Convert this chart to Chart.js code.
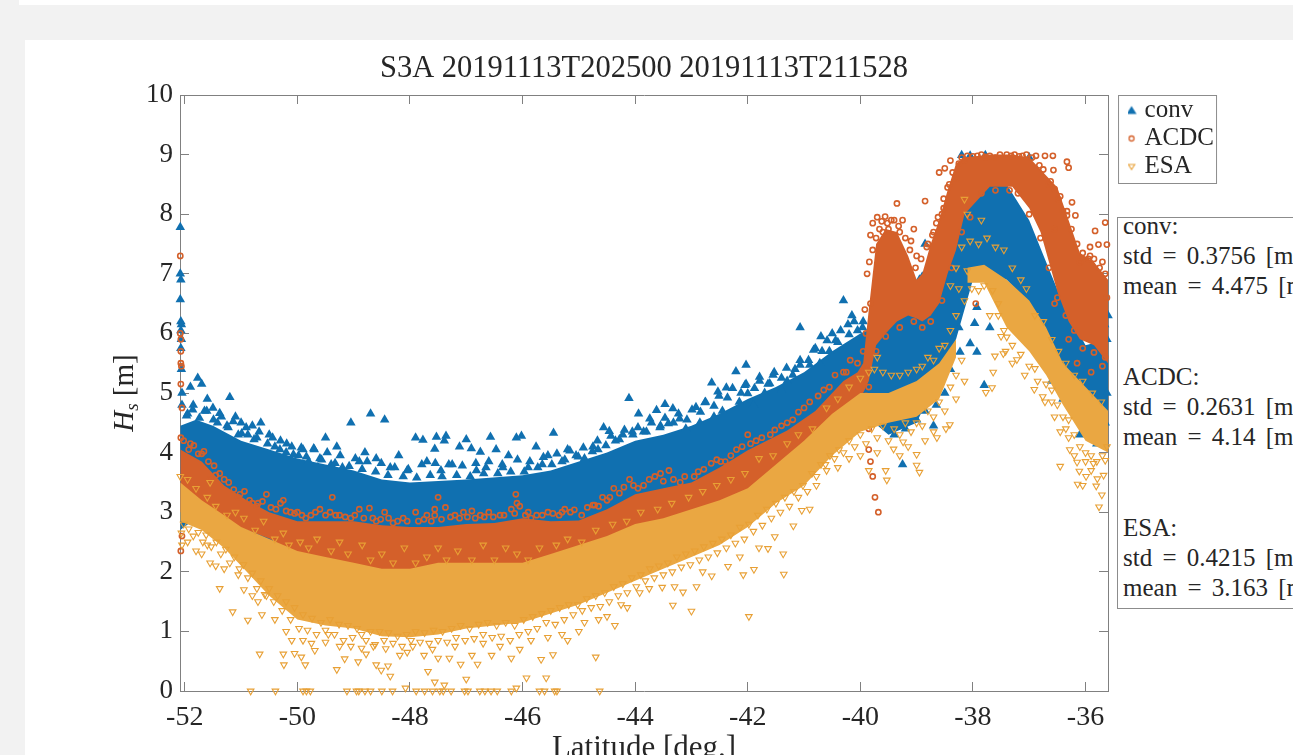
<!DOCTYPE html>
<html>
<head>
<meta charset="utf-8">
<script src="https://cdn.jsdelivr.net/npm/chart.js@4"></script>
<style>
  html, body { margin: 0; height: 100%; overflow: hidden; background: #f2f2f2; }
  #strip { position: absolute; left: 19px; top: 0; right: 0; height: 5px; background: #fff; }
  #panel { position: absolute; left: 25px; top: 40px; right: 0; bottom: 0; background: #fff; }
  canvas { position: absolute; left: 0; top: 0; }
  #stats { position: absolute; left: 1117px; top: 217px; width: 300px; height: 390px; border: 1px solid #8c8c8c;
           background: #fff; overflow: hidden; font: 25px "Liberation Serif", serif; color: #262626; word-spacing: 4px; }
  #stats div { height: 30.2px; line-height: 30.2px; white-space: pre; padding-left: 5px; position: relative; top: -7px; }
</style>
</head>
<body>
<div id="strip"></div>
<div id="panel"></div>
<canvas id="grafico" width="1293" height="790"></canvas>
<div id="stats"></div>
<script>
var seriesNames = ["conv", "ACDC", "ESA"];
var titleText = "S3A 20191113T202500 20191113T211528";
var xTitleText = "Latitude [deg.]";
var xTicks = [-52, -50, -48, -46, -44, -42, -40, -38, -36];
var yTicks = [0, 1, 2, 3, 4, 5, 6, 7, 8, 9, 10];
var statsLines = ["conv:", "std = 0.3756 [m]", "mean = 4.475 [m]", "", "", "ACDC:", "std = 0.2631 [m]", "mean = 4.14 [m]", "", "", "ESA:", "std = 0.4215 [m]", "mean = 3.163 [m]"];

// dense core of each cloud as [lat, upper, lower]
var convCore = [[-52.08,4.45,2.7],[-51.8,4.55,2.9],[-51.5,4.45,3],[-51,4.2,2.6],[-50.5,4.05,2.5],[-50,3.9,2.4],[-49.5,3.8,2.3],[-49,3.7,2.3],[-48.5,3.55,2.2],[-48,3.5,2.2],[-47,3.55,2.3],[-46,3.62,2.4],[-45.5,3.7,2.5],[-45,3.85,2.6],[-44.5,4,2.8],[-44,4.2,3],[-43.5,4.3,3.1],[-43,4.45,3.3],[-42.5,4.65,3.5],[-42,4.9,3.7],[-41.5,5.1,4],[-41,5.35,4.2],[-40.5,5.7,4.6],[-40,6,4.7],[-39.5,6.2,4.3],[-39,6.5,4.5],[-38.6,7.4,5.3],[-38.3,8.3,5.9],[-38,8.6,6.9],[-37.7,8.6,7],[-37.4,8.5,6.9],[-37,7.9,6.5],[-36.7,7.2,6],[-36.4,6.5,5.3],[-36,5.8,4.6],[-35.6,5.9,4.3]];
var acdcCore = [[-52.08,4.05,3],[-51.7,3.85,3],[-51.3,3.45,2.83],[-50.9,3.2,2.7],[-50.5,3,2.56],[-50,2.85,2.28],[-49.5,2.85,2.15],[-49,2.85,2.06],[-48.5,2.78,2],[-48,2.75,2],[-47.5,2.75,2.1],[-47,2.8,2.08],[-46.5,2.82,2.08],[-46,2.9,2.08],[-45.5,2.85,2.25],[-45,2.86,2.41],[-44.5,3.05,2.55],[-44,3.3,2.7],[-43.5,3.4,2.8],[-43,3.5,2.9],[-42.5,3.75,3.05],[-42,4.04,3.25],[-41.3,4.37,3.75],[-40.8,4.7,4.1],[-40.3,5.2,4.5],[-40.05,5.35,4.8],[-39.95,5.5,5],[-39.85,6.4,5.2],[-39.72,7.5,5.8],[-39.55,7.75,6],[-39.35,7.7,6.2],[-39.15,7.3,6.3],[-39,6.9,6.25],[-38.9,7,6.2],[-38.75,7.5,6.3],[-38.6,7.9,6.5],[-38.45,8.4,7],[-38.3,8.85,7.4],[-38.15,8.95,8],[-37.7,9,8.46],[-37.3,9,8.46],[-37,8.95,8.1],[-36.8,8.75,7.7],[-36.5,8.45,6.7],[-36.3,7.9,6.2],[-36.1,7.35,5.9],[-35.85,7.2,5.8],[-35.6,6.9,5.5]];
var esaCore = [[-52.08,3.5,2.85],[-51.7,3.2,2.7],[-51.3,2.95,2.4],[-51,2.75,2.1],[-50.5,2.55,1.6],[-50,2.35,1.2],[-49.5,2.25,1.1],[-49,2.15,1.05],[-48.5,2.05,0.92],[-48,2.05,0.9],[-47.5,2.15,0.95],[-47,2.15,1.05],[-46.5,2.15,1.1],[-46,2.15,1.15],[-45.5,2.3,1.3],[-45,2.45,1.45],[-44.5,2.6,1.65],[-44,2.8,1.85],[-43.5,2.9,2.05],[-43,3.05,2.25],[-42.5,3.2,2.45],[-42,3.4,2.75],[-41.5,3.8,3.15],[-41,4.2,3.45],[-40.5,4.65,3.95],[-40,5,4.35],[-39.5,5,4.5],[-39,5.2,4.6],[-38.6,5.5,4.9],[-38.3,5.9,5.6]];
var esaCoreArch = [[-38.1,7.1,6.85],[-37.8,7.15,6.85],[-37.4,6.9,6.1],[-37,6.55,5.7],[-36.7,6.1,5.3],[-36.4,5.5,4.8],[-36,5.1,4.2],[-35.6,4.7,4]];

// markers that stand out on their own, as [lat, Hs]
var convPoints = [[-52.08,7.78],[-52.08,7],[-52.07,6.9],[-52.08,6.57],[-52.07,6.2],[-52.06,6.15],[-52.07,6.05],[-52.06,5.9],[-52.07,5.75],[-52.06,5.4],[-52.05,5],[-52.05,4.8],[-51.95,4.65],[-51.9,5.1],[-51.85,4.8],[-51.77,5.25],[-51.7,5.15],[-51.65,4.7],[-51.6,4.9],[-51.5,4.75],[-51.42,4.5],[-51.35,4.6],[-51.25,4.45],[-51.2,4.93],[-51.1,4.6],[-51.05,4.3],[-51,4.5],[-50.88,4.3],[-50.8,4.45],[-50.72,4.25],[-50.65,4.5],[-50.5,4.3],[-50.4,4.1],[-50.3,4.2],[-50.2,4],[-50.1,4.1],[-49.98,3.95],[-49.9,4.05],[-49.8,3.85],[-49.7,4.05],[-49.6,3.9],[-49.5,4.25],[-49.4,3.8],[-49.3,4.1],[-49.2,3.75],[-49.05,4.5],[-48.9,3.85],[-48.8,4],[-48.7,4.65],[-48.6,3.9],[-48.45,4.55],[-48.35,3.75],[-48.2,3.95],[-48.05,3.7],[-47.9,4.25],[-47.77,4.21],[-47.7,3.85],[-47.56,4.06],[-47.53,4.26],[-47.45,3.7],[-47.39,4.2],[-47.36,4.28],[-47.25,3.8],[-47.12,4.1],[-47,4.22],[-46.91,4.07],[-46.82,3.7],[-46.75,4.01],[-46.65,3.75],[-46.57,4.26],[-46.47,4.05],[-46.35,3.75],[-46.25,3.95],[-46.11,4.25],[-46.02,4.28],[-45.9,3.75],[-45.76,4.1],[-45.65,3.8],[-45.55,3.95],[-45.45,4.33],[-45.3,3.85],[-45.2,4.05],[-45.05,3.95],[-44.9,3.9],[-44.75,4.1],[-44.66,4.05],[-44.56,4.42],[-44.46,4.36],[-44.35,4.2],[-44.22,4.3],[-44.11,4.91],[-44.05,4.35],[-43.94,4.65],[-43.85,4.35],[-43.74,4.57],[-43.62,4.71],[-43.55,4.45],[-43.47,4.81],[-43.41,4.49],[-43.33,4.74],[-43.21,4.57],[-43.1,4.4],[-42.92,4.76],[-42.85,4.5],[-42.76,4.84],[-42.64,5.17],[-42.6,4.6],[-42.53,5.02],[-42.45,4.7],[-42.38,5.09],[-42.21,5.36],[-42.15,4.85],[-42.05,5.13],[-42.03,5.47],[-42,4.99],[-41.9,4.8],[-41.79,5.27],[-41.7,5],[-41.61,5.16],[-41.53,5.35],[-41.4,5.05],[-41.3,5.2],[-41.2,5.3],[-41.07,6.1],[-41.07,5.47],[-40.9,5.47],[-40.8,5.75],[-40.72,5.5],[-40.7,5.95],[-40.55,5.7],[-40.5,6],[-40.4,5.85],[-40.3,6.55],[-40.22,6.15],[-40.15,6.3],[-40.05,6.05],[-39.95,6.2],[-39.8,6.05],[-39.7,5.6],[-39.55,6],[-39.4,6.1],[-39.3,6.35],[-39.1,6.5],[-38.95,6.9],[-38.85,7.5],[-38.7,7.1],[-38.55,7.6],[-38.45,8.1],[-38.2,8.99],[-38.05,8.98],[-37.93,6.44],[-37.7,6.1],[-37.97,6.17],[-38.05,5.83],[-37.93,5.69],[-38.23,5.69],[-38.25,6.1],[-37.8,5.13],[-37.78,8.99],[-37,8.95],[-38.4,5.4],[-38.5,5],[-38.65,4.8],[-38.85,4.7],[-39,4.55],[-39.2,4.4],[-39.1,4.9],[-39.4,4.3],[-39.5,4.8],[-39.25,3.8],[-38.7,4.45],[-39.65,4.7],[-36.6,5.2],[-36.4,4.9],[-36.2,4.7],[-36.1,4.3],[-35.95,4.4],[-35.8,4.15],[-35.65,4.5],[-35.62,5],[-35.62,5.9],[-35.66,6.15],[-35.6,6.3],[-35.7,6],[-35.75,4.75]];
// jagged upper edge of the blue cloud
var convEdge = [[-51.97,4.62],[-51.86,4.72],[-51.74,4.58],[-51.61,4.7],[-51.49,4.55],[-51.38,4.66],[-51.23,4.42],[-51.14,4.52],[-50.99,4.32],[-50.91,4.42],[-50.77,4.22],[-50.68,4.35],[-50.53,4.15],[-50.44,4.25],[-50.31,4.05],[-50.19,4.15],[-50.07,3.97],[-49.93,4.08],[-49.84,3.93],[-49.71,4.07],[-49.57,3.88],[-49.47,4],[-49.33,3.82],[-49.24,3.95],[-49.08,3.77],[-48.97,3.9],[-48.85,3.72],[-48.76,3.85],[-48.61,3.68],[-48.51,3.82],[-48.39,3.62],[-48.27,3.75],[-48.12,3.6],[-48.03,3.72],[-47.88,3.58],[-47.79,3.8],[-47.64,3.62],[-47.55,3.82],[-47.43,3.6],[-47.31,3.8],[-47.17,3.62],[-47.07,3.78],[-46.93,3.6],[-46.83,3.82],[-46.69,3.65],[-46.6,3.85],[-46.44,3.65],[-46.36,3.8],[-46.21,3.68],[-46.09,3.88],[-45.97,3.68],[-45.87,3.85],[-45.73,3.75],[-45.63,3.92],[-45.48,3.8],[-45.39,3.98],[-45.25,3.88],[-45.16,4.03],[-45.01,3.93],[-44.92,4.08],[-44.76,4.02],[-44.67,4.2],[-44.52,4.12],[-44.43,4.28],[-44.28,4.22],[-44.19,4.38],[-44.04,4.3],[-43.95,4.42],[-43.8,4.35],[-43.71,4.5],[-43.56,4.42],[-43.47,4.58],[-43.32,4.5],[-43.23,4.65],[-43.08,4.55],[-42.99,4.72],[-42.84,4.68],[-42.75,4.85],[-42.6,4.78],[-42.51,4.95],[-42.36,4.92],[-42.27,5.08],[-42.12,5],[-42.03,5.15],[-41.88,5.08],[-41.79,5.2],[-41.64,5.15],[-41.55,5.3],[-41.4,5.25],[-41.31,5.42],[-41.16,5.4],[-41.07,5.55],[-40.92,5.55],[-40.83,5.72],[-40.68,5.7],[-40.59,5.88],[-40.44,5.88],[-40.35,6.05],[-40.2,5.98],[-40.11,6.2],[-39.96,6.1],[-39.85,5.95],[-39.62,6.2],[-39.45,6.3],[-39.2,6.5],[-38.9,6.95],[-38.75,7.2]];
var acdcPoints = [[-52.08,7.3],[-52.08,6],[-52.07,5.9],[-52.07,5.7],[-52.07,5.5],[-52.06,5.45],[-52.07,5.15],[-52.05,4.75],[-52.07,4.25],[-52.07,2.35],[-52.05,2.6],[-51.9,4.15],[-51.7,3.98],[-51.55,3.55],[-51.45,3.62],[-51.05,3.25],[-50.85,3.2],[-50.7,3.15],[-50.55,3.3],[-50.25,3.2],[-50.2,3.02],[-50,3],[-49.85,2.9],[-49.6,3.05],[-49.38,3.25],[-49.25,2.95],[-49.05,2.9],[-48.9,3.05],[-48.72,3.07],[-48.6,2.85],[-48.45,3],[-48.3,2.82],[-48.12,2.9],[-47.9,3],[-47.7,2.95],[-47.56,2.95],[-47.56,3.05],[-47.5,3.25],[-47.37,3.08],[-47.2,2.95],[-47.05,3],[-46.9,3.02],[-46.75,2.95],[-46.6,3],[-46.4,2.95],[-46.12,3.3],[-46.05,3.1],[-45.95,2.95],[-45.85,2.9],[-45.75,2.95],[-45.55,3],[-45.35,2.95],[-45.25,3.05],[-45.08,3.04],[-44.95,2.95],[-44.72,3.12],[-44.65,3.1],[-44.58,3.25],[-44.38,3.4],[-44.1,3.55],[-43.95,3.4],[-43.65,3.6],[-43.55,3.65],[-43.4,3.7],[-43.2,3.5],[-42.95,3.6],[-42.55,3.88],[-42.4,3.85],[-42.1,4.1],[-42,4.3],[-41.85,4.2],[-41.6,4.3],[-41.4,4.45],[-41.2,4.55],[-41,4.75],[-40.75,4.95],[-40.55,5.1],[-40.3,5.35],[-40.18,5.55],[-40.1,5.2],[-39.85,4.4],[-39.85,4.05],[-39.82,3.85],[-39.78,3.6],[-39.74,3.25],[-39.68,3],[-39.9,4.7],[-39.95,5.7],[-39.92,6.4],[-39.88,7],[-39.82,7.65],[-39.78,7.85],[-39.7,7.95],[-39.6,7.7],[-39.56,7.96],[-39.5,7.75],[-39.4,7.9],[-39.35,8.18],[-39.3,7.7],[-39.25,7.9],[-39.1,7.55],[-39.05,7.75],[-39,7.3],[-38.85,8.22],[-38.8,7.5],[-38.7,7.7],[-38.65,7.85],[-38.55,8],[-38.52,8.26],[-38.5,8.77],[-38.4,8.9],[-38.6,8.7],[-38.45,8.45],[-38.2,8.95],[-37.85,9],[-37.4,9],[-37.05,9],[-36.72,8.98],[-36.58,8.98],[-36.33,8.88],[-36.3,8.78],[-36.57,8.74],[-36.65,8.5],[-36.45,8.3],[-36.24,8.2],[-36.33,8.05],[-36.18,7.98],[-36.33,7.98],[-36.55,7.75],[-35.83,7.72],[-35.65,7.86],[-35.77,7.49],[-35.62,7.49],[-35.92,7.45],[-35.92,7.3],[-36.1,7.2],[-35.7,7.2],[-35.65,5.6],[-35.9,5.35],[-36.15,5.5],[-36.3,5.9],[-36.55,6.5],[-37.95,6.5]];
// upper edge of the red cloud, the top row sits at 9, and its spikes over the blue
var acdcEdge = [[-52.02,4.2],[-51.93,4.05],[-51.84,4.12],[-51.76,3.98],[-51.66,4.02],[-51.58,3.85],[-51.48,3.78],[-51.38,3.65],[-51.3,3.55],[-51.22,3.5],[-51.13,3.38],[-51.02,3.3],[-50.94,3.35],[-50.8,3.15],[-50.72,3.1],[-50.62,3.18],[-50.47,3.08],[-50.38,3.05],[-50.3,3.15],[-50.12,3],[-50.05,2.98],[-49.92,2.95],[-49.76,2.95],[-49.68,3],[-49.5,2.95],[-49.42,3],[-49.32,2.95],[-49.15,2.92],[-48.98,2.95],[-48.82,2.9],[-48.66,2.9],[-48.52,2.88],[-48.38,2.9],[-48.22,2.85],[-48.05,2.85],[-47.85,2.85],[-47.75,2.88],[-47.62,2.85],[-47.44,2.88],[-47.28,2.92],[-47.12,2.9],[-46.98,2.92],[-46.84,2.9],[-46.68,2.92],[-46.52,2.92],[-46.33,2.95],[-46.2,3.05],[-46.1,3.15],[-46.14,2.98],[-45.9,3],[-45.65,2.95],[-45.46,2.98],[-45.3,3],[-45.15,3],[-44.85,3.08],[-44.75,3.12],[-44.5,3.2],[-44.45,3.25],[-44.28,3.32],[-44.2,3.42],[-44.03,3.45],[-43.85,3.45],[-43.75,3.55],[-43.5,3.52],[-43.32,3.55],[-43.12,3.6],[-42.88,3.68],[-42.78,3.72],[-42.65,3.82],[-42.48,3.85],[-42.3,3.95],[-42.2,4.05],[-41.95,4.15],[-41.75,4.25],[-41.52,4.38],[-41.3,4.5],[-41.1,4.68],[-40.9,4.85],[-40.65,5.05],[-40.45,5.3],[-40.25,5.35],[-40.05,5.5],[-39.95,5.3],[-39.88,5.4],[-39.9,6],[-39.82,6.5],[-39.84,7.2],[-39.78,7.4],[-39.72,7.6],[-39.66,7.75],[-39.62,7.88],[-39.52,7.85],[-39.45,7.9],[-39.32,7.8],[-39.2,7.6],[-39.12,7.4],[-39.02,7.1],[-38.92,7.25],[-38.82,7.45],[-38.72,7.65],[-38.62,7.95],[-38.52,8.1],[-38.42,8.5],[-38.36,8.7],[-38.3,8.6],[-38.25,8.85],[-38.15,8.9],[-38.1,8.98],[-38,8.97],[-37.92,8.98],[-37.78,8.96],[-37.7,8.98],[-37.6,8.95],[-37.52,9],[-37.32,8.98],[-37.26,9],[-37.18,8.97],[-37.12,8.98],[-36.95,8.95],[-36.88,8.98],[-36.82,8.82],[-36.75,8.75],[-36.62,8.55],[-36.55,8.42],[-36.48,8.25],[-36.4,8.05],[-36.25,7.75],[-36.15,7.5],[-36.05,7.35],[-35.95,7.25],[-35.85,7.25],[-35.75,7.1],[-35.65,7],[-35.62,6.6],[-35.7,5.45],[-35.85,5.68],[-36.05,5.75],[-36.2,6.05],[-36.35,6.3],[-36.5,6.6],[-36.65,7.1],[-36.8,7.6],[-37,8],[-37.2,8.35],[-37.35,8.4],[-37.6,8.4],[-37.85,8.35],[-38.05,7.95],[-38.2,7.7],[-38.38,7.1],[-38.55,6.55],[-38.75,6.2],[-38.9,6.1],[-39.05,6.2],[-39.3,6.1],[-39.55,5.95],[-39.72,5.7],[-39.85,5.1],[-39.9,4.95]];
var esaPoints = [[-52.08,3.6],[-52.06,2.65],[-52.05,2.45],[-51.95,2.5],[-51.8,2.35],[-51.7,2.3],[-51.6,2.45],[-51.55,2.15],[-51.45,2.1],[-51.38,1.72],[-51.3,2.05],[-51.15,1.33],[-51.05,1.95],[-50.95,1.7],[-50.88,1.19],[-50.8,1.6],[-50.7,1.5],[-50.63,1.28],[-50.67,0.62],[-50.55,1.6],[-50.4,1.2],[-50.25,0.62],[-50.24,0.44],[-50.2,1],[-50.1,0.85],[-50.05,0.63],[-49.93,0.57],[-49.9,0.85],[-49.86,0.44],[-49.75,0.8],[-49.69,0.68],[-49.5,0.82],[-49.45,0.95],[-49.3,0.36],[-49.25,0.75],[-49.16,0.54],[-49.05,0.75],[-48.92,0.49],[-48.86,0.72],[-48.78,0.62],[-48.65,0.75],[-48.6,0.44],[-48.51,0.35],[-48.43,0.71],[-48.39,0.42],[-48.35,0.25],[-48.18,0.6],[-48.05,0.65],[-47.95,0.75],[-47.75,0.6],[-47.68,0.33],[-47.6,0.7],[-47.56,0.15],[-47.5,0.55],[-47.39,0.1],[-47.3,0.55],[-47.2,0.75],[-47.1,0.45],[-47,0.2],[-46.9,0.6],[-46.8,0.45],[-46.7,0.8],[-46.55,0.6],[-46.4,0.75],[-46.2,0.55],[-46.05,0.7],[-45.93,0.22],[-45.85,0.85],[-45.67,0.53],[-45.58,0.22],[-45.55,0.9],[-45.46,0.61],[-45.3,0.95],[-45.2,0.85],[-45,1],[-44.9,1.15],[-44.7,0.57],[-44.65,1.2],[-44.5,1.25],[-44.36,1.1],[-44.25,1.45],[-44.14,1.4],[-43.92,1.65],[-43.75,1.72],[-43.52,1.74],[-43.33,1.44],[-43.3,1.75],[-43.15,1.66],[-43,1.34],[-42.91,1.75],[-42.8,2],[-42.64,1.93],[-42.35,2.09],[-42.14,2.25],[-42.08,1.95],[-41.98,1.25],[-41.89,2.04],[-41.8,2.4],[-41.64,2.39],[-41.52,2.59],[-41.37,2.3],[-41.36,1.96],[-41.19,2.77],[-41.04,3.03],[-40.9,3.05],[-40.78,3.45],[-40.6,3.7],[-40.4,3.75],[-40.2,3.9],[-40,3.95],[-39.85,3.7],[-39.7,4],[-39.55,3.7],[-39.53,3.54],[-39.41,4.06],[-39.3,3.95],[-39.24,4.18],[-39.15,4.1],[-39,3.97],[-39,3.79],[-38.95,3.67],[-38.85,4.2],[-38.7,4.35],[-38.64,4.25],[-38.48,4.4],[-38.41,4.47],[-38.3,4.9],[-38.15,5.2],[-37.77,5.01],[-37.66,5.09],[-37.64,5.35],[-37.61,5.62],[-37.46,5.66],[-37.4,5.94],[-37.22,5.56],[-37.7,6.3],[-37.55,6.5],[-36.91,5.06],[-36.9,5.41],[-36.76,4.94],[-36.6,4.85],[-36.45,4.35],[-36.45,3.77],[-36.28,4.05],[-36.15,3.84],[-36.14,3.47],[-36.11,3.69],[-36.05,3.45],[-35.99,3.6],[-35.86,3.82],[-35.81,3.44],[-35.79,3.56],[-35.76,3.09],[-35.71,3.29],[-35.68,3.62],[-35.65,3.87],
  [-50.83,0],[-50.39,0],[-49.9,0],[-49.84,0],[-49.77,0],[-49.12,0],[-48.95,0],[-48.91,0],[-48.8,0],[-48.7,0],[-48.5,0],[-48.31,0],[-48.08,0.05],[-47.89,0],[-47.74,0],[-47.6,0],[-47.47,0],[-47.41,0],[-47.27,0],[-47.03,0],[-46.97,0],[-46.76,0],[-46.67,0],[-46.56,0],[-46.45,0],[-46.2,0],[-46.11,0.05],[-45.7,0],[-45.61,0],[-45.43,0],[-45.39,0],[-44.63,0]];
// jagged lower edge of the gold cloud, then the marks that lie over the red one and the arch
var esaEdge = [[-52.02,2.8],[-51.93,2.72],[-51.85,2.6],[-51.76,2.66],[-51.68,2.5],[-51.62,2.62],[-51.53,2.42],[-51.44,2.5],[-51.36,2.3],[-51.27,2.38],[-51.2,2.15],[-51.12,2.25],[-51.03,2.05],[-50.96,2.12],[-50.88,1.9],[-50.8,1.98],[-50.72,1.72],[-50.65,1.85],[-50.58,1.62],[-50.5,1.72],[-50.42,1.5],[-50.35,1.6],[-50.27,1.35],[-50.2,1.5],[-50.12,1.2],[-50.05,1.4],[-49.97,1.05],[-49.9,1.28],[-49.82,1.02],[-49.74,1.22],[-49.66,0.95],[-49.58,1.15],[-49.5,1.02],[-49.42,1.2],[-49.34,0.95],[-49.26,1.12],[-49.18,0.85],[-49.1,1.1],[-49.02,0.9],[-48.94,1.05],[-48.86,0.95],[-48.78,0.85],[-48.7,1],[-48.62,0.78],[-48.54,1],[-48.46,0.85],[-48.38,0.98],[-48.3,0.8],[-48.22,0.92],[-48.14,0.75],[-48.06,0.95],[-47.98,0.85],[-47.9,1],[-47.82,0.82],[-47.74,0.98],[-47.66,0.8],[-47.58,1.02],[-47.5,0.85],[-47.42,1],[-47.34,0.82],[-47.26,1.05],[-47.18,0.9],[-47.1,1.1],[-47.02,0.85],[-46.94,1.05],[-46.86,0.88],[-46.78,1.12],[-46.7,0.95],[-46.62,1.15],[-46.54,0.9],[-46.46,1.1],[-46.38,0.92],[-46.3,1.15],[-46.22,0.85],[-46.14,1.1],[-46.06,0.95],[-45.98,1.2],[-45.9,1],[-45.82,1.25],[-45.74,1.05],[-45.66,1.3],[-45.58,1.15],[-45.5,1.35],[-45.42,1.12],[-45.34,1.4],[-45.26,1.2],[-45.18,1.45],[-45.1,1.28],[-45.02,1.45],[-44.94,1.35],[-44.86,1.55],[-44.78,1.4],[-44.7,1.6],[-44.62,1.42],[-44.54,1.65],[-44.46,1.5],[-44.38,1.75],[-44.3,1.6],[-44.22,1.8],[-44.14,1.65],[-44.06,1.9],[-43.98,1.75],[-43.9,1.95],[-43.82,1.85],[-43.74,2.05],[-43.66,1.9],[-43.58,2.1],[-43.5,1.95],[-43.42,2.15],[-43.34,2],[-43.26,2.25],[-43.18,2.08],[-43.1,2.3],[-43.02,2.12],[-42.94,2.35],[-42.86,2.2],[-42.78,2.42],[-42.7,2.25],[-42.62,2.48],[-42.54,2.32],[-42.46,2.55],[-42.38,2.4],[-42.3,2.62],[-42.22,2.48],[-42.14,2.75],[-42.06,2.55],[-41.98,2.8],[-41.9,2.68],[-41.82,2.95],[-41.74,2.78],[-41.66,3.05],[-41.58,2.9],[-41.5,3.15],[-41.42,3],[-41.34,3.25],[-41.26,3.1],[-41.18,3.35],[-41.1,3.25],[-41.02,3.45],[-40.94,3.35],[-40.86,3.65],[-40.78,3.6],[-40.7,3.8],[-40.62,3.8],[-40.54,3.95],[-40.46,3.9],[-40.38,4.05],[-40.3,4],[-40.2,4.2],[-40.1,4.1],[-40,4.3],[-39.9,4.15],[-39.8,4.4],[-39.7,4.25],[-39.6,4.45],[-39.5,4.2],[-39.4,4.4],[-39.3,4.3],[-39.2,4.5],[-39.1,4.35],[-39,4.5],[-38.9,4.45],[-38.8,4.7],[-38.7,4.6],[-38.6,4.85],[-38.5,4.7],[-38.4,5.1],[-38.3,5.3],[-38.2,5.55],
  [-37.5,5.95],[-37.3,5.8],[-37.15,5.65],[-37,5.45],[-36.85,5.2],[-36.7,5.15],[-36.6,5.05],[-36.5,4.8],[-36.4,4.6],[-36.3,4.55],[-36.2,4.3],[-36.1,4.1],[-36,4],[-35.9,3.95],[-35.8,3.85],[-35.7,3.95],[-35.62,4.1],[-36.3,4.25],[-36.2,3.95],[-36,3.85],[-35.9,3.7],[-36.35,4.4],[-36.55,4.6],[-36.72,4.85],[-37.08,5.3],[-37.3,5.5],[-37.42,5.7],[-38.02,6.75],[-37.9,6.72],[-37.8,6.8],[-37.65,6.72],[-37.55,6.3],[-37.45,6.05],
  [-38.3,6.3],[-38.4,6.05],[-38.5,5.8],[-38.6,5.75],[-38.7,5.55],[-38.8,5.6],[-38.9,5.45],[-39,5.4],[-39.15,5.35],[-39.3,5.3],[-39.45,5.3],[-39.6,5.35],[-39.75,5.4],[-38.15,6.55],[-38.25,6.75],[-38.1,7.05],[-38.3,7.1],[-38.2,7.45],[-38.05,7.55],[-37.9,7.5],[-37.75,7.6],[-37.6,7.45],[-37.45,7.4],[-37.3,7.1],[-37.15,6.9],[-38.1,8],[-38.15,8.25],[-37.85,7.9],[-38.4,6.8],[-37.05,6.75],[-36.9,6.3],[-36.75,6.2],[-36.6,5.9],[-36.48,5.7],[-36.35,5.5],[-36.2,5.3],[-36.05,5.2],[-35.88,5],[-35.72,4.85],
  [-51.95,3.55],[-51.8,3.4],[-51.6,3.25],[-51.45,3.1],[-51.55,3.5],[-51.25,2.95],[-51.1,3],[-50.95,2.9],[-50.75,2.7],[-50.6,2.85],[-50.4,2.55],[-50.25,2.65],[-50.15,2.45],[-49.95,2.5],[-49.8,2.4],[-49.65,2.55],[-49.4,2.35],[-49.25,2.5],[-49.1,2.3],[-48.85,2.45],[-48.7,2.2],[-48.5,2.3],[-48.3,2.15],[-48.1,2.4],[-47.9,2.15],[-47.7,2.25],[-47.5,2.4],[-47.35,2.2],[-47.15,2.35],[-46.9,2.2],[-46.7,2.45],[-46.5,2.2],[-46.3,2.4],[-46.1,2.3],[-45.9,2.2],[-45.7,2.4],[-45.4,2.45],[-45.2,2.55],[-44.95,2.5],[-44.7,2.7],[-44.4,2.8],[-44.15,2.85],[-43.9,3],[-43.6,3.05],[-43.35,3.15],[-43.05,3.25],[-42.8,3.35],[-42.55,3.45],[-42.3,3.55],[-42.05,3.65],[-41.8,3.9],[-41.55,3.95],[-41.3,4.15],[-41.1,4.3],[-40.85,4.4],[-40.6,4.75],[-40.4,4.9],[-40.2,5.1],[-40,5.25],[-39.85,5.35],[-39.7,5.6]];

var azul = "#1070b0", laranja = "#d4602a", ouro = "#e8a035", cinza = "#808080", texto = "#262626";
var fonte = "Liberation Serif";

function toXY(list) {
    return list.map(function(p) { return {x: p[0], y: p[1]}; });
}
function lower(list) {
    return list.map(function(p) { return {x: p[0], y: p[2]}; });
}
function bandTop(name, list, cor, ordem) {
    return {type: "line", label: name, data: toXY(list), order: ordem, fill: "+1", backgroundColor: cor,
        borderColor: cor, borderWidth: 0, pointRadius: 0, tension: 0};
}
function bandBottom(name, list, cor, ordem) {
    return {type: "line", label: name, data: lower(list), order: ordem, fill: false, borderWidth: 0, borderColor: cor, pointRadius: 0, tension: 0};
}

// small glyphs for the legend, it draws every marker at one size otherwise
function legendMark(desenho) {
    var c = document.createElement("canvas");
    c.width = 16; c.height = 16;
    var g = c.getContext("2d");
    desenho(g);
    return c;
}
var legendMarks = [
    legendMark(function(g) { g.fillStyle = azul; g.beginPath(); g.moveTo(8, 3.5); g.lineTo(13, 11.5); g.lineTo(3, 11.5); g.fill(); }),
    legendMark(function(g) { g.strokeStyle = laranja; g.lineWidth = 1.3; g.beginPath(); g.arc(8, 8, 2.5, 0, 7); g.stroke(); }),
    legendMark(function(g) { g.strokeStyle = ouro; g.lineWidth = 1.1; g.beginPath(); g.moveTo(4.8, 6); g.lineTo(11.2, 6); g.lineTo(8, 11); g.closePath(); g.stroke(); })
];

var molduras = {
    id: "molduras",
    afterDraw: function(chart) {
        var ctx = chart.ctx, a = chart.chartArea, lg = chart.legend;
        ctx.save();
        // legend frame
        ctx.strokeStyle = "#8c8c8c";
        ctx.lineWidth = 1;
        ctx.strokeRect(a.right + 10.5, Math.round(lg.top) + 0.5, 98, 88);
        // y title, mixed italic and subscript
        ctx.fillStyle = texto;
        ctx.textBaseline = "alphabetic";
        ctx.translate(133, (a.top + a.bottom) / 2);
        ctx.rotate(-Math.PI / 2);
        var grande = "italic 29px '" + fonte + "'", peq = "italic 19px '" + fonte + "'", reto = "29px '" + fonte + "'";
        ctx.font = grande; var w1 = ctx.measureText("H").width;
        ctx.font = peq; var w2 = ctx.measureText("s").width;
        ctx.font = reto; var w3 = ctx.measureText(" [m]").width;
        var x = -(w1 + w2 + w3) / 2;
        ctx.font = grande; ctx.fillText("H", x, 0);
        ctx.font = peq; ctx.fillText("s", x + w1, 5);
        ctx.font = reto; ctx.fillText(" [m]", x + w1 + w2, 0);
        ctx.restore();
    }
};

function fixTicks(valores) {
    return function(scale) {
        scale.ticks = valores.map(function(v) { return {value: v}; });
    };
}
function tickGrid() {
    return {drawOnChartArea: false, color: cinza, tickLength: -9, lineWidth: 1};
}

var c = document.getElementById("grafico");
var ctx = c.getContext("2d");
var datas = {
    type: "scatter",
    data: {
        datasets: [
            {label: seriesNames[0], data: toXY(convPoints.concat(convEdge)), order: 6, pointStyle: "triangle", pointRadius: 5.5,
                backgroundColor: azul, borderColor: azul, borderWidth: 0, clip: false},
            {label: seriesNames[1], data: toXY(acdcPoints.concat(acdcEdge)), order: 3, pointStyle: "circle", pointRadius: 2.6,
                backgroundColor: "rgba(0,0,0,0)", borderColor: laranja, borderWidth: 1.6, clip: false},
            {label: seriesNames[2], data: toXY(esaPoints.concat(esaEdge)), order: 1, pointStyle: "triangle", pointRotation: 180, pointRadius: 3.8,
                backgroundColor: "rgba(0,0,0,0)", borderColor: ouro, borderWidth: 1.1, clip: false},
            bandTop("conv core", convCore, azul, 7),
            bandBottom("conv core", convCore, azul, 7),
            bandTop("ACDC core", acdcCore, laranja, 4),
            bandBottom("ACDC core", acdcCore, laranja, 4),
            bandTop("ESA core", esaCore, "#eaa742", 2),
            bandBottom("ESA core", esaCore, "#eaa742", 2),
            bandTop("ESA core arch", esaCoreArch, "#eaa742", 2),
            bandBottom("ESA core arch", esaCoreArch, "#eaa742", 2)
        ]
    },
    options: {
        responsive: false,
        animation: false,
        events: [],
        layout: {padding: {top: 0, left: 0, right: 69, bottom: 0}},
        plugins: {
            tooltip: {enabled: false},
            title: {
                display: true, text: titleText, color: texto, fullSize: false,
                font: {family: fonte, size: 30.5, weight: "normal", lineHeight: 1.2},
                padding: {top: 51, bottom: 7.4}
            },
            legend: {
                position: "right", align: "start", fullSize: false,
                labels: {
                    usePointStyle: true, pointStyleWidth: 1, boxHeight: 16, padding: 3, color: texto,
                    font: {family: fonte, size: 25, lineHeight: 1},
                    generateLabels: function(chart) {
                        return seriesNames.map(function(n, i) {
                            return {text: n, pointStyle: legendMarks[i], datasetIndex: i, fontColor: texto, lineWidth: 0, hidden: false};
                        });
                    }
                }
            }
        },
        scales: {
            x: {
                type: "linear", position: "bottom", min: -52.085, max: -35.6,
                afterBuildTicks: fixTicks(xTicks), afterFit: function(s) { s.height = 99; },
                grid: tickGrid(), border: {color: cinza},
                ticks: {padding: 19, color: texto, autoSkip: false, maxRotation: 0, font: {family: fonte, size: 28},
                    callback: function(v) { return String(v); }},
                title: {display: true, text: xTitleText, color: texto, font: {family: fonte, size: 31}, padding: {top: 0, bottom: 23}}
            },
            y: {
                type: "linear", position: "left", min: 0, max: 10,
                afterBuildTicks: fixTicks(yTicks), afterFit: function(s) { s.width = 180; },
                grid: tickGrid(), border: {color: cinza},
                ticks: {padding: 16, color: texto, autoSkip: false, font: {family: fonte, size: 27},
                    callback: function(v) { return String(v); }}
            },
            x2: {
                type: "linear", axis: "x", position: "top", min: -52.085, max: -35.6,
                afterBuildTicks: fixTicks(xTicks), afterFit: function(s) { s.height = 0; },
                grid: tickGrid(), border: {color: cinza}, ticks: {display: false}
            },
            y2: {
                type: "linear", axis: "y", position: "right", min: 0, max: 10,
                afterBuildTicks: fixTicks(yTicks), afterFit: function(s) { s.width = 20; },
                grid: tickGrid(), border: {color: cinza}, ticks: {display: false}
            }
        }
    },
    plugins: [molduras]
};
var chart = new Chart(ctx, datas);

var caixa = document.getElementById("stats");
statsLines.forEach(function(l) {
    var d = document.createElement("div");
    d.textContent = l;
    caixa.appendChild(d);
});
</script>
</body>
</html>
